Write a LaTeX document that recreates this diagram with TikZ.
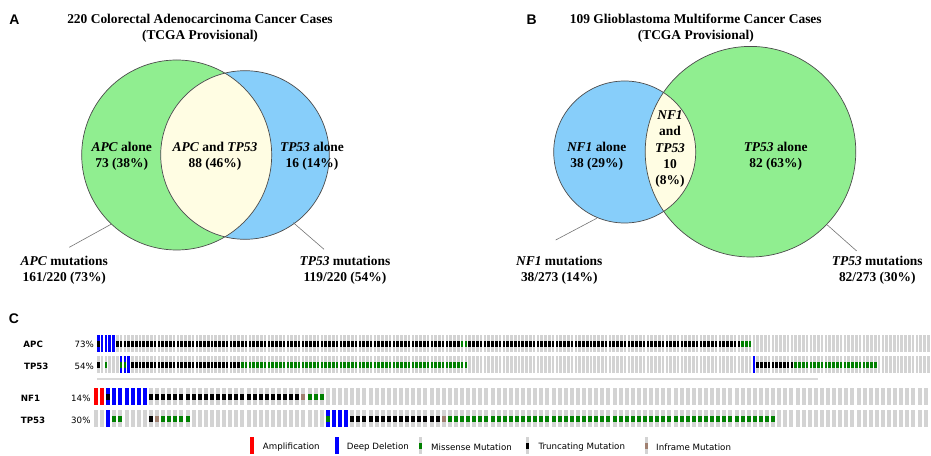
\documentclass[tikz,border=0pt]{standalone}
\usepackage{fontspec}
\setmainfont{Liberation Serif}
\newfontfamily\onco{DejaVu Sans}
\newfontfamily\panel{Liberation Sans}
\definecolor{vgreen}{HTML}{90EE90}
\definecolor{vblue}{HTML}{87CEFA}
\definecolor{vyellow}{HTML}{FFFDE3}
\definecolor{ogray}{HTML}{D3D3D3}
\definecolor{oblue}{HTML}{0000FF}
\definecolor{ored}{HTML}{FF0000}
\definecolor{ogreen}{HTML}{008000}
\definecolor{obrown}{HTML}{A08070}

\begin{document}
\begin{tikzpicture}[x=1bp, y=-1bp,
    vtxt/.style={font=\fontsize{13.5}{16.5}\selectfont\bfseries, align=center, inner sep=0pt},
    venn/.style={draw=black!70, line width=0.7bp},
    leader/.style={draw=black!55, line width=0.6bp},
    plabel/.style={font=\panel\fontsize{14}{14}\selectfont\bfseries, inner sep=0pt},
    gene/.style={font=\onco\fontsize{8.7}{10}\selectfont\bfseries, anchor=west, inner sep=0pt},
    pct/.style={font=\onco\fontsize{8.7}{10}\selectfont, anchor=east, inner sep=0pt},
    legtxt/.style={font=\onco\fontsize{8.7}{10}\selectfont, anchor=west, inner sep=0pt}]
    \useasboundingbox (0,0) rectangle (931,456);

    % 面板标签
    \node[plabel] (pA) at (14.3,20) {A};
    \node[plabel] (pB) at (531.7,20) {B};
    \node[plabel] (pC) at (14,319) {C};

    % A: 结直肠癌 Venn
    \node[vtxt] (titleA) at (200,28) {220 Colorectal Adenocarcinoma Cancer Cases\\(TCGA Provisional)};
    \coordinate (apc) at (176.7,155);
    \coordinate (tpA) at (245,155);
    \fill[vgreen] (apc) circle[radius=95bp];
    \fill[vblue] (tpA) circle[radius=84.3bp];
    \begin{scope}
        \clip (apc) circle[radius=95bp];
        \fill[vyellow] (tpA) circle[radius=84.3bp];
    \end{scope}
    \draw[venn] (apc) circle[radius=95bp];
    \draw[venn] (tpA) circle[radius=84.3bp];
    \node[vtxt] (apcAlone) at (121.7,156.5) {\textit{APC} alone\\73 (38\%)};
    \node[vtxt] (apcBoth) at (215,156.5) {\textit{APC} and \textit{TP53}\\88 (46\%)};
    \node[vtxt] (tpAAlone) at (312,156.5) {\textit{TP53} alone\\16 (14\%)};

    % A: 突变标签
    \node[vtxt] (apcMut) at (64.3,270.5) {\textit{APC} mutations\\161/220 (73\%)};
    \node[vtxt] (tpAMut) at (345,270.5) {\textit{TP53} mutations\\119/220 (54\%)};
    \coordinate (apcEdge) at (111,224.3);
    \coordinate (apcTip) at (69.3,247.3);
    \coordinate (tpAEdge) at (293.3,222.7);
    \coordinate (tpATip) at (324,249.3);
    \draw[leader] (apcTip) -- (apcEdge);
    \draw[leader] (tpATip) -- (tpAEdge);

    % B: 胶质母细胞瘤 Venn
    \node[vtxt] (titleB) at (695.8,28) {109 Glioblastoma Multiforme Cancer Cases\\(TCGA Provisional)};
    \coordinate (nf) at (624.7,152);
    \coordinate (tpB) at (750.5,151.7);
    \fill[vblue] (nf) circle[radius=71bp];
    \fill[vgreen] (tpB) circle[radius=105.3bp];
    \begin{scope}
        \clip (nf) circle[radius=71bp];
        \fill[vyellow] (tpB) circle[radius=105.3bp];
    \end{scope}
    \draw[venn] (nf) circle[radius=71bp];
    \draw[venn] (tpB) circle[radius=105.3bp];
    \node[vtxt] (nfAlone) at (596.7,156.5) {\textit{NF1} alone\\38 (29\%)};
    \node[vtxt] (nfBoth) at (670,149) {\textit{NF1}\\and\\\textit{TP53}\\10\\(8\%)};
    \node[vtxt] (tpBAlone) at (775.7,156.5) {\textit{TP53} alone\\82 (63\%)};

    % B: 突变标签
    \node[vtxt] (nfMut) at (559.3,270.5) {\textit{NF1} mutations\\38/273 (14\%)};
    \node[vtxt] (tpBMut) at (877.3,270.5) {\textit{TP53} mutations\\82/273 (30\%)};
    \coordinate (nfEdge) at (596.7,218.3);
    \coordinate (nfTip) at (555.7,240);
    \coordinate (tpBEdge) at (827.3,225);
    \coordinate (tpBTip) at (856.7,251);
    \draw[leader] (nfTip) -- (nfEdge);
    \draw[leader] (tpBTip) -- (tpBEdge);

    % C: 行标签
    \node[gene] (gApc) at (23.3,344) {APC};
    \node[gene] (gTpA) at (24,366) {TP53};
    \node[pct] (pApc) at (94,344) {73\%};
    \node[pct] (pTpA) at (94,366) {54\%};
    \node[gene] (gNf) at (20.7,398) {NF1};
    \node[gene] (gTpB) at (20.7,420) {TP53};
    \node[pct] (pNf) at (90.7,398) {14\%};
    \node[pct] (pTpB) at (90.7,420) {30\%};

    % C: CRC 网格 (220 例)
    \foreach \i in {0,...,219} {
        \fill[ogray] ({97+3.79*\i},335) rectangle ++(2.6,17);
        \fill[ogray] ({97+3.79*\i},356) rectangle ++(2.6,17);
    }
    % APC
    \foreach \i in {0,...,4} \fill[oblue] ({97+3.79*\i},335) rectangle ++(2.6,17);
    \foreach \i in {0,5,6,...,95} \fill[black] ({97+3.79*\i},341) rectangle ++(2.6,5.6);
    \foreach \i in {96,97} \fill[ogreen] ({97+3.79*\i},341) rectangle ++(2.6,5.6);
    \foreach \i in {98,...,169} \fill[black] ({97+3.79*\i},341) rectangle ++(2.6,5.6);
    \foreach \i in {170,171,172} \fill[ogreen] ({97+3.79*\i},341) rectangle ++(2.6,5.6);
    % TP53
    \foreach \i in {6,7,8,173} \fill[oblue] ({97+3.79*\i},356) rectangle ++(2.6,17);
    \foreach \i in {0,9,10,...,37} \fill[black] ({97+3.79*\i},362) rectangle ++(2.6,5.6);
    \foreach \i in {2,6,7} \fill[ogreen] ({97+3.79*\i},362) rectangle ++(2.6,5.6);
    \foreach \i in {38,...,97} \fill[ogreen] ({97+3.79*\i},362) rectangle ++(2.6,5.6);
    \foreach \i in {174,...,183} \fill[black] ({97+3.79*\i},362) rectangle ++(2.6,5.6);
    \foreach \i in {184,...,205} \fill[ogreen] ({97+3.79*\i},362) rectangle ++(2.6,5.6);
    % 分隔线
    \draw[black!15, line width=1.5bp] (97,379) -- (818,379);

    % C: GBM 网格
    \foreach \i in {0,...,136} {
        \fill[ogray] ({94+6.1*\i},388) rectangle ++(4,17);
        \fill[ogray] ({94+6.1*\i},410) rectangle ++(4,17);
    }
    % NF1
    \foreach \i in {0,1} \fill[ored] ({94+6.1*\i},388) rectangle ++(4,17);
    \foreach \i in {2,...,8} \fill[oblue] ({94+6.1*\i},388) rectangle ++(4,17);
    \foreach \i in {2,9,10,...,33} \fill[black] ({94+6.1*\i},394) rectangle ++(4,5.6);
    \fill[obrown] ({94+6.1*34},394) rectangle ++(4,5.6);
    \foreach \i in {35,36,37} \fill[ogreen] ({94+6.1*\i},394) rectangle ++(4,5.6);
    % TP53
    \foreach \i in {2,38,39,40,41} \fill[oblue] ({94+6.1*\i},410) rectangle ++(4,17);
    \foreach \i in {3,4,11,12,...,15,38} \fill[ogreen] ({94+6.1*\i},416) rectangle ++(4,5.6);
    \foreach \i in {9,42,43,...,56} \fill[black] ({94+6.1*\i},416) rectangle ++(4,5.6);
    \foreach \i in {10,57} \fill[obrown] ({94+6.1*\i},416) rectangle ++(4,5.6);
    \foreach \i in {58,...,111} \fill[ogreen] ({94+6.1*\i},416) rectangle ++(4,5.6);

    % 图例
    \fill[ored] (250,437) rectangle ++(3.5,17);
    \fill[oblue] (335,437) rectangle ++(3.5,17);
    \fill[ogray] (418.5,437) rectangle ++(3.5,17);
    \fill[ogreen] (418.5,443) rectangle ++(3.5,5.6);
    \fill[ogray] (525.5,437) rectangle ++(3.5,17);
    \fill[black] (525.5,443) rectangle ++(3.5,5.6);
    \fill[ogray] (644.5,437) rectangle ++(3.5,17);
    \fill[obrown] (644.5,443) rectangle ++(3.5,5.6);
    \node[legtxt] (lAmp) at (262.7,447) {Amplification};
    \node[legtxt] (lDel) at (346.7,447) {Deep Deletion};
    \node[legtxt] (lMis) at (431,447) {Missense Mutation};
    \node[legtxt] (lTrn) at (538.3,447) {Truncating Mutation};
    \node[legtxt] (lInf) at (656,447) {Inframe Mutation};
\end{tikzpicture}
\end{document}
